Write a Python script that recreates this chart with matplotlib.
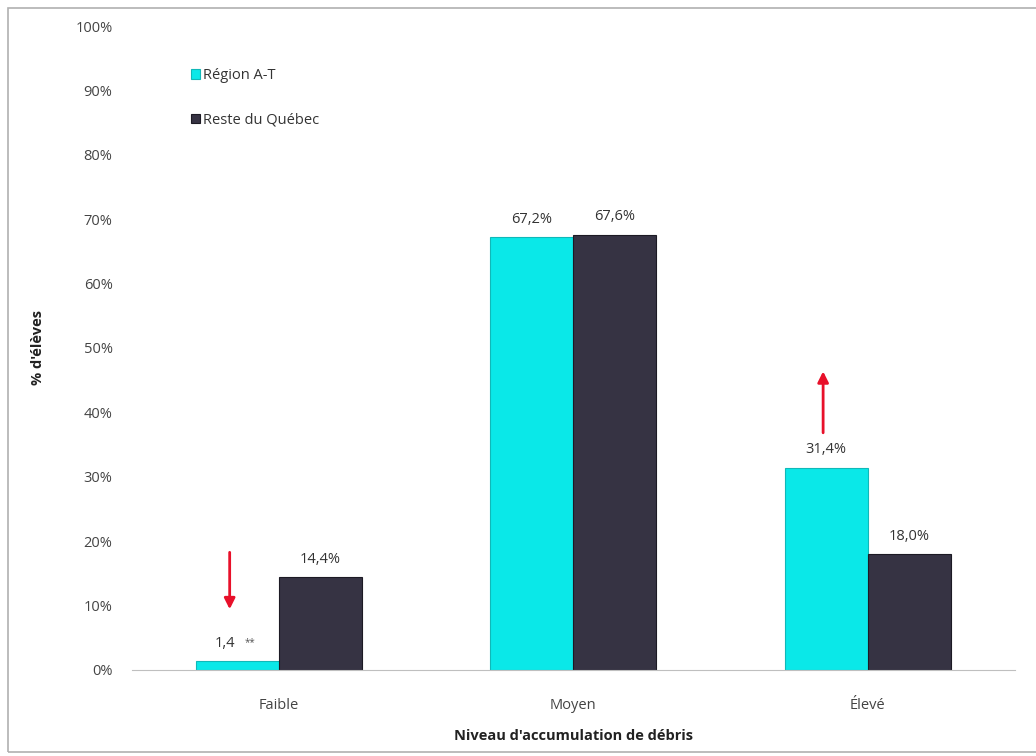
import numpy as np
import matplotlib.pyplot as plt
from matplotlib.patches import Rectangle

plt.rcParams['font.family'] = ['Open Sans', 'DejaVu Sans']

# Data
categories = ["Faible", "Moyen", "Élevé"]
region_at = [1.4, 67.2, 31.4]
reste_qc = [14.4, 67.6, 18.0]
region_labels = ["1,4", "67,2%", "31,4%"]
reste_labels = ["14,4%", "67,6%", "18,0%"]
# significance arrows on the Région A-T bars: -1 down, +1 up, 0 none
arrows = [-1, 0, 1]

fig = plt.figure(figsize=(10.36, 7.56), dpi=100)
ax = fig.add_axes([0.1274, 0.1138, 0.852, 0.8518])

# outer frame
fig.patches.append(Rectangle((8 / 1036, 4 / 756), 1.2, 744 / 756, transform=fig.transFigure,
                             fill=False, edgecolor='#b0b0b0', linewidth=1.2))

x = np.arange(len(categories))
w = 0.282
cyan = '#0ae8e8'
dark = '#363343'
ax.bar(x - w / 2, region_at, w, color=cyan, edgecolor='#10b8b8', linewidth=0.8, label='Région A-T')
ax.bar(x + w / 2, reste_qc, w, color=dark, edgecolor='#1c1a24', linewidth=0.8, label='Reste du Québec')

# value labels
for i, (xi, v, lab) in enumerate(zip(x, region_at, region_labels)):
    if i == 0:
        # small value, flagged with ** (imprecise estimate)
        ax.text(xi - w / 2 - 0.044, v + 1.6, lab, ha='center', va='bottom', fontsize=10.5, color='#333333')
        ax.text(xi - w / 2 + 0.022, v + 2.0, "**", ha='left', va='bottom', fontsize=7, color='#555555')
    else:
        ax.text(xi - w / 2, v + 1.6, lab, ha='center', va='bottom', fontsize=10.5, color='#333333')
for xi, v, lab in zip(x, reste_qc, reste_labels):
    ax.text(xi + w / 2, v + 1.6, lab, ha='center', va='bottom', fontsize=10.5, color='#333333')

# red arrows
for xi, v, d in zip(x, region_at, arrows):
    if d < 0:
        ax.annotate('', xy=(xi - w / 2 - 0.027, v + 7.6), xytext=(xi - w / 2 - 0.027, v + 17.3),
                    arrowprops=dict(arrowstyle='-|>', color='#e8102a', lw=2, mutation_scale=16))
    elif d > 0:
        ax.annotate('', xy=(xi - w / 2 - 0.01, v + 15.4), xytext=(xi - w / 2 - 0.01, v + 5.0),
                    arrowprops=dict(arrowstyle='-|>', color='#e8102a', lw=2, mutation_scale=16))

ax.set_xlim(-0.5, 2.5)
ax.set_ylim(0, 100)
ax.set_yticks(np.arange(0, 101, 10))
ax.set_yticklabels([f"{t}%" for t in range(0, 101, 10)])
ax.set_xticks(x)
ax.set_xticklabels(categories)
ax.tick_params(axis='both', length=0, labelsize=10.5, labelcolor='#444444')
ax.tick_params(axis='y', pad=14)
ax.tick_params(axis='x', pad=20)
for s in ['top', 'right', 'left']:
    ax.spines[s].set_visible(False)
ax.spines['bottom'].set_color('#bfbfbf')

ax.set_ylabel("% d'élèves", fontsize=10.5, fontweight='bold', color='#222222', labelpad=22)
ax.set_xlabel("Niveau d'accumulation de débris", fontsize=10.5, fontweight='bold', color='#222222', labelpad=12)

leg = ax.legend(loc='upper left', bbox_to_anchor=(0.052, 0.955), frameon=False, fontsize=10.5,
                handlelength=0.6, handleheight=0.6, handletextpad=0.2, labelspacing=2.0)
for t in leg.get_texts():
    t.set_color('#333333')

fig.savefig('out.png', dpi=100)
